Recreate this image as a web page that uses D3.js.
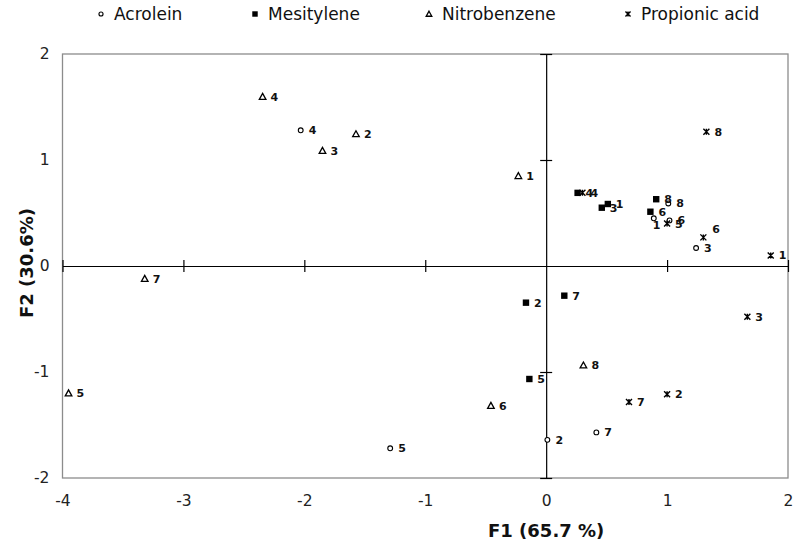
<!DOCTYPE html>
<html>
<head>
<meta charset="utf-8">
<script src="https://cdn.jsdelivr.net/npm/d3@7"></script>
<style>
  html, body { margin: 0; padding: 0; background: #fff; }
  svg { display: block; }
</style>
</head>
<body>
<div id="chart"></div>
<script>
// ---- data (F1, F2 scores) ----
const seriesNames = ["Acrolein", "Mesitylene", "Nitrobenzene", "Propionic acid"];
const pointIds = [1, 2, 3, 4, 5, 6, 7, 8];
const acroleinF1 = [0.89, 0.01, 1.24, -2.03, -1.29, 1.02, 0.415, 1.01];
const acroleinF2 = [0.45, -1.64, 0.17, 1.28, -1.72, 0.43, -1.57, 0.59];
const mesityleneF1 = [0.51, -0.167, 0.46, 0.26, -0.139, 0.862, 0.15, 0.91];
const mesityleneF2 = [0.585, -0.346, 0.55, 0.69, -1.066, 0.512, -0.28, 0.63];
const nitrobenzeneF1 = [-0.23, -1.573, -1.85, -2.345, -3.95, -0.457, -3.32, 0.308];
const nitrobenzeneF2 = [0.85, 1.245, 1.088, 1.597, -1.20, -1.318, -0.12, -0.937];
const propionicF1 = [1.857, 1.0, 1.664, 0.30, 1.0, 1.30, 0.685, 1.325];
const propionicF2 = [0.10, -1.21, -0.478, 0.69, 0.40, 0.27, -1.283, 1.267];
const xTicks = [-4, -3, -2, -1, 0, 1, 2];
const yTicks = [-2, -1, 0, 1, 2];
const xTitle = "F1 (65.7 %)";
const yTitle = "F2 (30.6%)";

const seriesData = [
  { name: seriesNames[0], shape: "circle",   f1: acroleinF1,     f2: acroleinF2 },
  { name: seriesNames[1], shape: "square",   f1: mesityleneF1,   f2: mesityleneF2 },
  { name: seriesNames[2], shape: "triangle", f1: nitrobenzeneF1, f2: nitrobenzeneF2 },
  { name: seriesNames[3], shape: "star",     f1: propionicF1,    f2: propionicF2 }
];
// label placement nudges (layout only)
const labelNudge = { "Acrolein-1": [-9, 7], "Propionic acid-6": [1, -8] };

// ---- layout ----
const W = 800, H = 548;
const svg = d3.select("#chart").append("svg").attr("width", W).attr("height", H);
const x = d3.scaleLinear().domain([-4, 2]).range([62.5, 788]);
const y = d3.scaleLinear().domain([-2, 2]).range([478, 54]);
const fmt = d => String(d);

// frame
svg.append("rect")
  .attr("x", x(-4)).attr("y", y(2))
  .attr("width", x(2) - x(-4)).attr("height", y(-2) - y(2))
  .attr("fill", "none").attr("stroke", "#8c8c8c").attr("stroke-width", 1.3);

// tick labels on frame
const axisFont = "'DejaVu Sans', Verdana, sans-serif";
const xAxisLab = svg.append("g").attr("transform", `translate(0,${y(-2)})`)
  .call(d3.axisBottom(x).tickValues(xTicks).tickSize(0).tickPadding(17).tickFormat(fmt));
xAxisLab.select(".domain").remove();
xAxisLab.selectAll("text").attr("font-family", axisFont).attr("font-size", 15.5).attr("fill", "#222");

const yAxisLab = svg.append("g").attr("transform", `translate(${x(-4)},0)`)
  .call(d3.axisLeft(y).tickValues(yTicks).tickSize(0).tickPadding(13).tickFormat(fmt));
yAxisLab.select(".domain").remove();
yAxisLab.selectAll("text").attr("font-family", axisFont).attr("font-size", 15.5).attr("fill", "#222");

// zero axes with crossing ticks
const zx = svg.append("g").attr("transform", `translate(0,${y(0)})`)
  .call(d3.axisBottom(x).tickValues(xTicks.filter(d => d !== 0)).tickSizeOuter(0).tickFormat(""));
zx.select(".domain").attr("stroke", "#000").attr("stroke-width", 1.2);
zx.selectAll(".tick line").attr("y1", -6).attr("y2", 6).attr("stroke", "#000").attr("stroke-width", 1.2);

const zy = svg.append("g").attr("transform", `translate(${x(0)},0)`)
  .call(d3.axisLeft(y).tickValues(yTicks.filter(d => d !== 0)).tickSizeOuter(0).tickFormat(""));
zy.select(".domain").attr("stroke", "#000").attr("stroke-width", 1.2);
zy.selectAll(".tick line").attr("x1", -6).attr("x2", 6).attr("stroke", "#000").attr("stroke-width", 1.2);

// axis titles
svg.append("text").attr("x", x(0)).attr("y", 537)
  .attr("text-anchor", "middle").attr("font-family", axisFont).attr("font-weight", "bold")
  .attr("font-size", 18).attr("fill", "#111").text(xTitle);
svg.append("text").attr("transform", `translate(33,263) rotate(-90)`)
  .attr("text-anchor", "middle").attr("font-family", axisFont).attr("font-weight", "bold")
  .attr("font-size", 18).attr("fill", "#111").text(yTitle);

// marker drawing
function drawMarker(g, shape, s) {
  if (shape === "circle") {
    g.append("circle").attr("r", 2.4 * s).attr("fill", "#fff").attr("stroke", "#000").attr("stroke-width", 1.1);
  } else if (shape === "square") {
    const a = 3.2 * s;
    g.append("rect").attr("x", -a).attr("y", -a).attr("width", 2 * a).attr("height", 2 * a).attr("fill", "#000");
  } else if (shape === "triangle") {
    const a = 3.3 * s;
    g.append("path").attr("d", `M0,${-a}L${a},${a * 0.8}L${-a},${a * 0.8}Z`)
      .attr("fill", "#fff").attr("stroke", "#000").attr("stroke-width", 1.3);
  } else {
    const a = 3 * s;
    g.append("path").attr("d", `M${-a},${-a}L${a},${a}M${a},${-a}L${-a},${a}M0,${-a}L0,${a}`)
      .attr("fill", "none").attr("stroke", "#000").attr("stroke-width", 1.4);
  }
}

// points
seriesData.forEach(s => {
  const pts = pointIds.map((id, i) => ({ id, f1: s.f1[i], f2: s.f2[i] }));
  const g = svg.append("g");
  const pg = g.selectAll("g.pt").data(pts).enter().append("g").attr("class", "pt")
    .attr("transform", d => `translate(${x(d.f1)},${y(d.f2)})`);
  pg.each(function () { drawMarker(d3.select(this), s.shape, 1); });
  pg.append("text")
    .attr("x", d => 8 + ((labelNudge[s.name + "-" + d.id] || [0, 0])[0]))
    .attr("y", d => ((labelNudge[s.name + "-" + d.id] || [0, 0])[1]))
    .attr("dy", "0.36em")
    .attr("font-family", axisFont).attr("font-weight", "bold").attr("font-size", 11)
    .attr("fill", "#111").text(d => d.id);
});

// legend
const legX = [101, 255, 429, 628];
const leg = svg.append("g");
seriesData.forEach((s, i) => {
  const lg = leg.append("g").attr("transform", `translate(${legX[i]},14)`);
  drawMarker(lg, s.shape, 0.85);
  lg.append("text").attr("x", 13).attr("dy", "0.36em")
    .attr("font-family", axisFont)
    .attr("font-size", 17).attr("fill", "#111").text(s.name);
});
</script>
</body>
</html>
